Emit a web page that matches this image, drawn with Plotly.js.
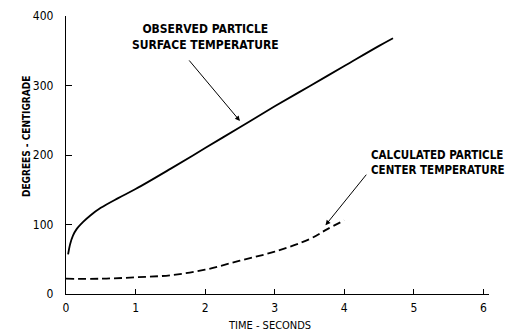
<!DOCTYPE html>
<html>
<head>
<meta charset="utf-8">
<script src="https://cdn.plot.ly/plotly-3.0.1.min.js"></script>
<style>html,body{margin:0;padding:0;background:#fff;}#chart{width:508px;height:333px;}</style>
</head>
<body>
<div id="chart"></div>
<script>
// Observed particle surface temperature (solid)
var obsTime = [0.03, 0.06, 0.10, 0.15, 0.25, 0.35, 0.50, 0.75, 1.00, 1.50, 2.00, 2.50, 3.00, 3.50, 4.00, 4.50, 4.70];
var obsTemp = [57, 72, 84, 93, 104, 113, 124, 138, 151, 180, 210, 240, 270, 299, 328, 357, 368];
// Calculated particle center temperature (dashed)
var calcTime = [0.0, 0.5, 1.0, 1.5, 2.0, 2.5, 3.0, 3.5, 3.75, 4.0];
var calcTemp = [22, 22, 24, 27, 35, 48, 61, 79, 93, 106];

var xTicks = [0, 1, 2, 3, 4, 5, 6];
var yTicks = [0, 100, 200, 300, 400];

var FONT = '"DejaVu Sans Condensed", "Liberation Sans Narrow", sans-serif';

var traces = [
  {x: obsTime, y: obsTemp, mode: 'lines', line: {color: '#000', width: 1.8, shape: 'spline'}, hoverinfo: 'skip'},
  {x: calcTime, y: calcTemp, mode: 'lines', line: {color: '#000', width: 1.8, dash: '8px,4px', shape: 'spline'}, hoverinfo: 'skip'}
];

var layout = {
  width: 508, height: 333,
  margin: {l: 66, r: 19, t: 16, b: 39},
  paper_bgcolor: '#fff', plot_bgcolor: '#fff',
  showlegend: false,
  font: {family: FONT, color: '#000', size: 12},
  xaxis: {
    range: [0, 6.08], tickvals: xTicks, ticktext: xTicks.map(String),
    showgrid: false, zeroline: false, showline: true, linecolor: '#000', linewidth: 1,
    ticks: 'inside', ticklen: 5, tickcolor: '#000', tickwidth: 1,
    tickfont: {family: FONT, size: 12, color: '#000'}, ticklabelstandoff: 3
  },
  yaxis: {
    range: [0, 400], tickvals: yTicks, ticktext: yTicks.map(String),
    showgrid: false, zeroline: false, showline: true, linecolor: '#000', linewidth: 1.2,
    ticks: 'inside', ticklen: 6, tickcolor: '#000', tickwidth: 1,
    tickfont: {family: FONT, size: 12, color: '#000'}, ticklabelstandoff: 9
  },
  annotations: [
    {xref: 'x', yref: 'y', x: 2.01, y: 370, text: '<b>OBSERVED PARTICLE<br>SURFACE TEMPERATURE</b>',
     showarrow: false, xanchor: 'center', yanchor: 'middle', align: 'center',
     font: {family: FONT, size: 12, color: '#000'}},
    {xref: 'x', yref: 'y', x: 2.50, y: 249, text: '', showarrow: true,
     ax: -52, ay: -62, arrowhead: 2, arrowsize: 1, arrowwidth: 1, arrowcolor: '#000'},
    {xref: 'x', yref: 'y', x: 4.35, y: 189, text: '<b>CALCULATED PARTICLE<br>CENTER TEMPERATURE</b>',
     showarrow: false, xanchor: 'left', yanchor: 'middle', align: 'left',
     font: {family: FONT, size: 11.5, color: '#000'}},
    {xref: 'x', yref: 'y', x: 3.73, y: 99, text: '', showarrow: true,
     ax: 42, ay: -52, arrowhead: 2, arrowsize: 1, arrowwidth: 1, arrowcolor: '#000'},
    {xref: 'paper', yref: 'paper', x: -0.092, y: 0.565, text: '<b>DEGREES - CENTIGRADE</b>',
     textangle: -90, showarrow: false, xanchor: 'center', yanchor: 'middle',
     font: {family: FONT, size: 10, color: '#000'}},
    {xref: 'paper', yref: 'paper', x: 0.482, y: -0.112, text: 'TIME - SECONDS',
     showarrow: false, xanchor: 'center', yanchor: 'middle',
     font: {family: FONT, size: 11, color: '#000'}}
  ]
};

Plotly.newPlot('chart', traces, layout, {staticPlot: true, displayModeBar: false});
</script>
</body>
</html>
